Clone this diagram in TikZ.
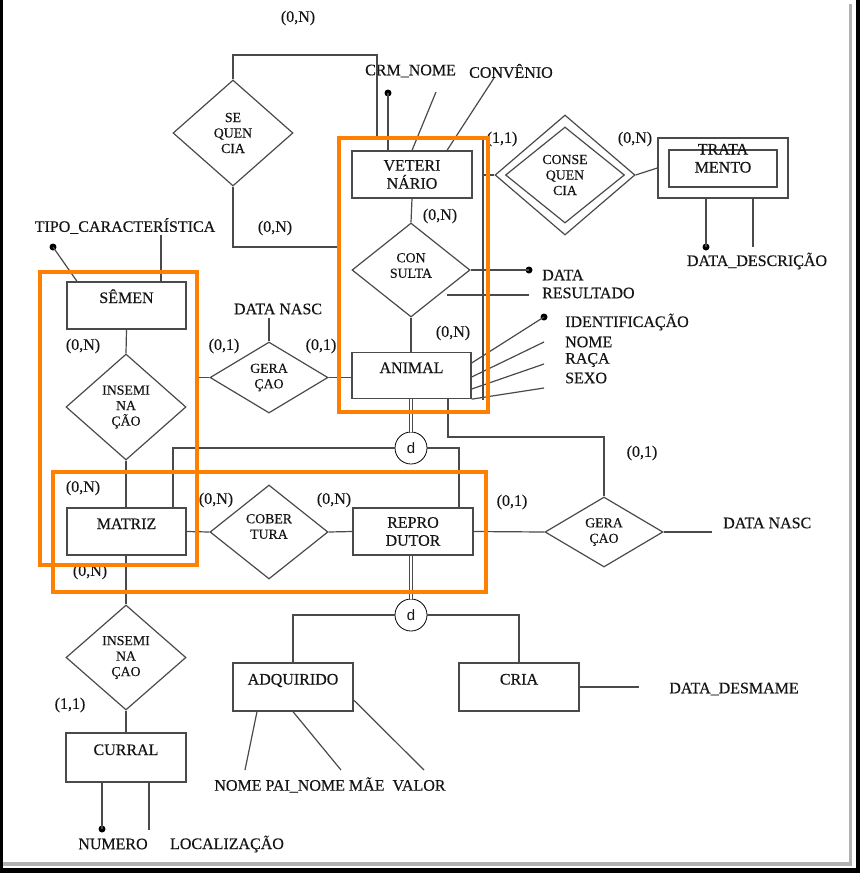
\documentclass[tikz,border=0pt]{standalone}
\usepackage{fontspec}
\setmainfont{Liberation Serif}[FakeBold=0.35]
\newfontfamily\dfont{Liberation Sans}
\usetikzlibrary{shapes.geometric}
\definecolor{lnc}{HTML}{4A4A4A}
\definecolor{tx}{HTML}{151515}
\definecolor{org}{HTML}{FF8000}
\begin{document}
\begin{tikzpicture}[x=1pt,y=-1pt,
  every node/.style={text=tx, font=\fontsize{16}{18}\selectfont},
  ent/.style={draw=lnc, line width=1.3pt, rectangle, minimum width=120pt, minimum height=47pt, inner sep=0pt, align=center},
  ent1/.style={ent, text height=11pt, text depth=16pt},
  rel/.style={draw=lnc, line width=1.2pt, diamond, inner sep=0pt, align=center, font=\fontsize{13.8}{15.5}\selectfont},
  lbl/.style={inner sep=0pt},
  att/.style={inner sep=0pt, anchor=west},
  cn/.style={draw=lnc, line width=1.2pt},
  dbl/.style={draw=lnc, line width=0.9pt, double=white, double distance=2.4pt},
  dotn/.style={circle, fill=black, inner sep=0pt, minimum size=7pt},
  dis/.style={circle, draw=black, line width=0.8pt, minimum size=32pt, inner sep=0pt, font=\dfont\fontsize{15}{15}\selectfont},
  hl/.style={draw=org, line width=4pt},
]
\useasboundingbox (0,0) rectangle (860,873);
\fill[white] (0,0) rectangle (860,873);

% entities
\node[ent] (vet) at (412,174.5) {VETERI\\NÁRIO};
\node[ent1, minimum height=46pt, minimum width=119pt] (animal) at (411.5,375.5) {ANIMAL};
\node[ent1, minimum width=119pt] (semen) at (126.5,305.5) {SÊMEN};
\node[ent1, minimum width=119pt] (matriz) at (126.5,531.5) {MATRIZ};
\node[ent] (repro) at (413,531.5) {REPRO\\DUTOR};
\node[ent1, minimum height=49pt] (curral) at (126,757.5) {CURRAL};
\node[ent1, minimum height=48pt] (adq) at (293,687) {ADQUIRIDO};
\node[ent1, minimum height=48pt] (cria) at (519,687) {CRIA};
\node[draw=lnc, line width=1.3pt, minimum width=130pt, minimum height=60pt, inner sep=0pt] (tratO) at (723,168) {};
\node[ent, minimum width=108pt, minimum height=37pt, text height=11pt, text depth=3pt] (trat) at (723,168.5) {TRATA\\MENTO};

% relationships
\node[rel, minimum width=120pt, minimum height=106pt] (seq) at (233,133) {SE\\QUEN\\CIA};
\node[rel, minimum width=118pt, minimum height=94pt, label={[lbl, font=\fontsize{13.8}{15.5}\selectfont, align=center, yshift=4.5pt]center:CON\\SULTA}] (cons) at (411,270) {};
\node[rel, minimum width=140pt, minimum height=120pt] (conseq) at (565,175) {};
\node[rel, minimum width=119pt, minimum height=96pt] (conseqI) at (565,175) {CONSE\\QUEN\\CIA};
\node[rel, minimum width=120pt, minimum height=106pt] (ins1) at (126,407) {INSEMI\\NA\\ÇÃO};
\node[rel, minimum width=118pt, minimum height=71pt] (ger1) at (269,377.5) {GERA\\ÇAO};
\node[rel, minimum width=118pt, minimum height=94pt, label={[lbl, font=\fontsize{13.8}{15.5}\selectfont, align=center, yshift=5.5pt]center:COBER\\TURA}] (cob) at (269,532) {};
\node[rel, minimum width=118pt, minimum height=70pt] (ger2) at (604,532) {GERA\\ÇAO};
\node[rel, minimum width=120pt, minimum height=105pt] (ins2) at (126,657.5) {INSEMI\\NA\\ÇAO};

% disjoint circles
\node[dis] (d1) at (411,448) {d};
\node[dis] (d2) at (411,615) {d};

% dots
\node[dotn] (dcrm) at (388,93) {};
\node[dotn] (ddata) at (529,270) {};
\node[dotn] (did) at (544,317) {};
\node[dotn] (dtd) at (706,247) {};
\node[dotn] (dtipo) at (53,247) {};
\node[dotn] (dnum) at (102,829) {};

% helper coordinates
\coordinate (q1) at (377,138);
\coordinate (q2) at (339,247);
\coordinate (q3) at (197,377.5);
\coordinate (v1) at (483,138);
\coordinate (v2) at (483,400);

% attribute labels
\node[att] (crm) at (365,71) {CRM\_NOME};
\node[att] (conv) at (469,71) {CONVÊNIO};
\node[att] (tdata) at (542,275) {DATA};
\node[att] (tres) at (542,293) {RESULTADO};
\node[att] (tid) at (565,322) {IDENTIFICAÇÃO};
\node[att] (tnome) at (565,342) {NOME};
\node[att] (traca) at (565,360) {RAÇA};
\node[att] (tsexo) at (565,378) {SEXO};
\node[lbl] (tdd) at (757,261) {DATA\_DESCRIÇÃO};
\node[lbl] (ttipo) at (125,226) {TIPO\_CARACTERÍSTICA};
\node[lbl] (tdn1) at (278,309) {DATA NASC};
\node[att] (tdn2) at (723,523) {DATA NASC};
\node[lbl] (tdes) at (734,689) {DATA\_DESMAME};
\node[lbl] (tadq) at (330,785) {NOME PAI\_NOME MÃE~~VALOR};
\node[lbl] (tnum) at (113,844) {NUMERO};
\node[lbl] (tloc) at (227,844) {LOCALIZAÇÃO};

% cardinalities
\node[lbl] at (298,18) {(0,N)};
\node[lbl] at (275,228) {(0,N)};
\node[lbl] at (502,139) {(1,1)};
\node[lbl] at (635,139) {(0,N)};
\node[lbl] at (440,216) {(0,N)};
\node[lbl] at (453,333) {(0,N)};
\node[lbl] at (83,346) {(0,N)};
\node[lbl] at (224,346) {(0,1)};
\node[lbl] at (321,346) {(0,1)};
\node[lbl] at (83,488) {(0,N)};
\node[lbl] at (216,500) {(0,N)};
\node[lbl] at (334,500) {(0,N)};
\node[lbl] at (90,572) {(0,N)};
\node[lbl] at (642,453) {(0,1)};
\node[lbl] at (512,502) {(0,1)};
\node[lbl] at (70,705) {(1,1)};

% connectors
\draw[cn] (seq.north) -- (233,55) -- (377,55) -- (q1);
\draw[cn] (seq.south) -- (233,247) -- (q2);
\draw[cn] (dcrm.center) -- (388,0 |- vet.north);
\draw[cn] (436,92) -- (412,0 |- vet.north);
\draw[cn] (494,78) -- (447,0 |- vet.north);
\draw[cn] (vet.south) -- (cons.north);
\draw[cn] (cons.east) -- (ddata.center);
\draw[cn] (447,295) -- (529,295);
\draw[cn] (cons.south) -- (411,0 |- animal.north);
\draw[cn] (animal.east |- 0,363) -- (did.center);
\draw[cn] (animal.east |- 0,377) -- (544,342);
\draw[cn] (animal.east |- 0,389) -- (544,364);
\draw[cn] (animal.south east) -- (544,388);
\draw[cn] (v1) -- (v2);
\draw[cn] (483,175) -- (conseq.west);
\draw[cn] (conseq.east) -- (tratO.west);
\draw[cn] (706,0 |- tratO.south) -- (dtd.center);
\draw[cn] (753,0 |- tratO.south) -- (753,247);
\draw[cn] (dtipo.center) -- (77,0 |- semen.north);
\draw[cn] (161,235) -- (161,0 |- semen.north);
\draw[cn] (semen.south) -- (ins1.north);
\draw[cn] (ins1.south) -- (126,0 |- matriz.north);
\draw[cn] (q3) -- (ger1.west);
\draw[cn] (ger1.east) -- (animal.west |- ger1.east);
\draw[cn] (ger1.north) -- (269,318);
\draw[cn] (matriz.east) -- (cob.west);
\draw[cn] (cob.east) -- (repro.west);
\draw[dbl] (animal.south -| d1.north) -- (d1.north);
\draw[cn] (d1.west) -- (173,448) -- (173,0 |- matriz.north);
\draw[cn] (d1.east) -- (459,448) -- (459,0 |- repro.north);
\draw[cn] (448,0 |- animal.south) -- (448,437) -- (604,437) -- (ger2.north);
\draw[cn] (repro.east) -- (ger2.west);
\draw[cn] (ger2.east) -- (712,532);
\draw[dbl] (repro.south -| d2.north) -- (d2.north);
\draw[cn] (d2.west) -- (293,615) -- (adq.north);
\draw[cn] (d2.east) -- (519,615) -- (cria.north);
\draw[cn] (cria.east) -- (639,687);
\draw[cn] (126,0 |- matriz.south) -- (ins2.north);
\draw[cn] (ins2.south) -- (curral.north);
\draw[cn] (102,0 |- curral.south) -- (dnum.center);
\draw[cn] (149,0 |- curral.south) -- (149,830);
\draw[cn] (257,0 |- adq.south) -- (245,770);
\draw[cn] (adq.south) -- (341,770);
\draw[cn] (adq.east |- 0,700) -- (424,770);

% highlight boxes
\draw[hl] (339,138) rectangle (488,412);
\draw[hl] (40,272) rectangle (197,565);
\draw[hl] (53,472) rectangle (486,592);

% window frame
\fill[black] (0,0) rectangle (3,873);
\fill[gray!60] (849,4) rectangle (852,866);
\fill[gray!60] (3,862) rectangle (852,866);
\fill[black] (856,0) rectangle (860,873);
\fill[black] (0,868) rectangle (860,873);
\end{tikzpicture}
\end{document}
